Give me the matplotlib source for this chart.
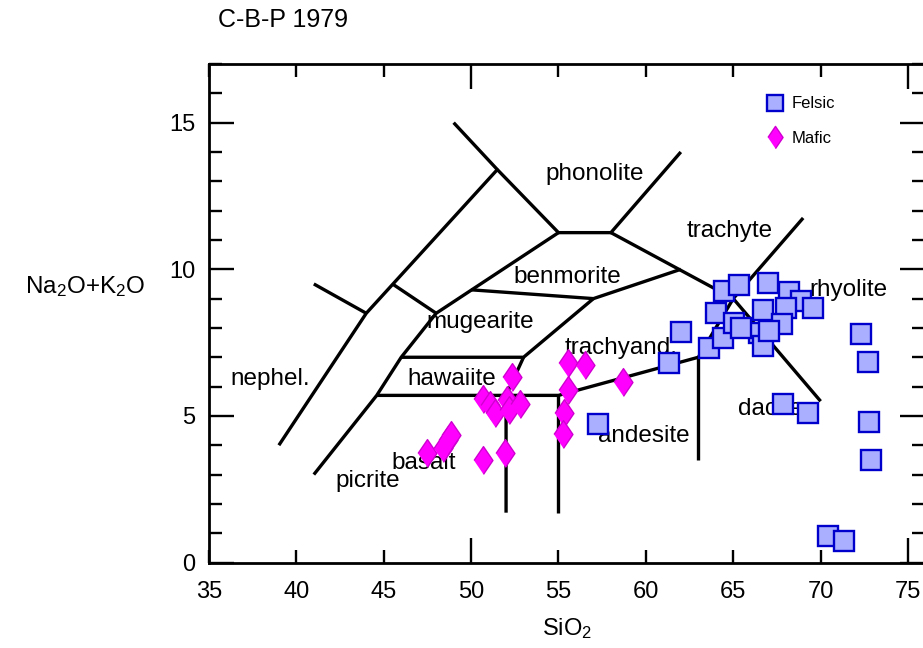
import matplotlib
matplotlib.use("Agg")
import matplotlib.pyplot as plt
from matplotlib.ticker import MultipleLocator, FormatStrFormatter

plt.rcParams['font.family'] = ['Liberation Sans', 'DejaVu Sans']
plt.rcParams['mathtext.fontset'] = 'custom'
plt.rcParams['mathtext.rm'] = 'Liberation Sans'
plt.rcParams['mathtext.it'] = 'Liberation Sans'

# felsic samples (SiO2, Na2O+K2O)
felsic_si = [57.24, 61.30, 62.01, 63.61, 64.02, 64.42, 64.48, 65.32, 65.03, 66.98,
             68.18, 68.87, 69.56, 68.01, 66.69, 67.80, 66.46, 66.69, 72.31, 72.71,
             67.84, 69.27, 72.77, 72.88, 70.42, 71.33, 65.43, 67.03]
felsic_alk = [4.71, 6.82, 7.87, 7.33, 8.52, 7.64, 9.27, 9.47, 8.18, 9.54,
              9.23, 8.93, 8.69, 8.69, 8.62, 8.15, 7.84, 7.40, 7.81, 6.85,
              5.39, 5.09, 4.78, 3.49, 0.90, 0.73, 8.01, 7.91]

# mafic samples
mafic_si = [47.49, 48.41, 48.70, 48.87, 50.70, 51.96, 50.70, 51.10, 51.39, 52.36,
            52.08, 52.19, 52.77, 55.57, 56.49, 55.57, 55.29, 55.23, 58.67]
mafic_alk = [3.72, 3.89, 4.17, 4.34, 3.49, 3.72, 5.56, 5.36, 5.09, 6.31,
             5.53, 5.19, 5.39, 6.79, 6.72, 5.87, 5.09, 4.40, 6.14]

# field boundaries, Cox, Bell & Pankhurst (1979)
boundaries = [
    [(39, 4), (44, 8.5), (51.5, 13.4), (55, 11.25), (58, 11.25), (62, 14)],
    [(51.5, 13.4), (49, 15)],
    [(41, 9.5), (44, 8.5)],
    [(45.5, 9.5), (48, 8.5)],
    [(41, 3), (44.6, 5.7), (46, 7), (48, 8.5), (55, 11.25)],
    [(58, 11.25), (65, 9), (70, 5.5)],
    [(65, 9), (69, 11.75)],
    [(50, 9.3), (57, 9), (62, 10)],
    [(44.6, 5.7), (55, 5.7), (63, 7), (65, 9)],
    [(46, 7), (53, 7), (57, 9)],
    [(53, 7), (52, 5.7), (52, 1.7)],
    [(55, 5.7), (55, 1.7)],
    [(63, 7), (63, 3.5)],
]

field_names = ['phonolite', 'trachyte', 'benmorite', 'rhyolite', 'mugearite',
               'trachyand.', 'nephel.', 'hawaiite', 'dacite', 'andesite',
               'basalt', 'picrite']
field_x = [57.06, 64.8, 55.5, 71.6, 50.5, 58.6, 38.5, 48.9, 67.1, 59.9, 47.26, 44.1]
field_y = [13.25, 11.3, 9.75, 9.3, 8.2, 7.3, 6.27, 6.27, 5.25, 4.3, 3.38, 2.77]

fig = plt.figure(figsize=(9.23, 6.48), dpi=100)
ax = fig.add_axes([0.2264, 0.1319, 0.7763, 0.7693])

for line in boundaries:
    xs = [p[0] for p in line]
    ys = [p[1] for p in line]
    ax.plot(xs, ys, color='black', lw=2.4, solid_capstyle='butt', zorder=2)

for name, x, y in zip(field_names, field_x, field_y):
    ax.text(x, y, name, fontsize=17.5, ha='center', va='center', zorder=1)

diamond = [(-0.34, 0), (0, 0.5), (0.34, 0), (0, -0.5)]

ax.plot(felsic_si, felsic_alk, ls='none', marker='s', markersize=14.5,
        markerfacecolor='#aab0ff', markeredgecolor='#0000cc', markeredgewidth=1.7,
        label='Felsic', zorder=3)
ax.plot(mafic_si, mafic_alk, ls='none', marker=diamond, markersize=20,
        markerfacecolor='#ff00ff', markeredgecolor='#d000d0', markeredgewidth=1.0,
        label='Mafic', zorder=3)

ax.set_xlim(35, 76)
ax.set_ylim(0, 17)

ax.xaxis.set_major_locator(MultipleLocator(25))
ax.xaxis.set_minor_locator(MultipleLocator(5))
ax.xaxis.set_major_formatter(FormatStrFormatter('%d'))
ax.xaxis.set_minor_formatter(FormatStrFormatter('%d'))
ax.yaxis.set_major_locator(MultipleLocator(5))
ax.yaxis.set_minor_locator(MultipleLocator(1))

ax.tick_params(which='both', direction='in', top=True, right=True, width=1.7,
               labelsize=17)
ax.tick_params(which='major', length=18)
ax.tick_params(which='minor', length=9.5)
ax.tick_params(axis='x', which='both', pad=13.5)
ax.tick_params(axis='y', which='both', pad=10)
for s in ax.spines.values():
    s.set_linewidth(2.0)

ax.set_xlabel('SiO$_2$', fontsize=17, labelpad=9)
ax.text(-0.173, 0.553, 'Na$_2$O+K$_2$O', transform=ax.transAxes,
        fontsize=17.5, ha='center', va='center')
fig.text(218 / 923, 1 - 20 / 648, 'C-B-P 1979', fontsize=18, va='center')

ax.legend(loc='upper left', bbox_to_anchor=(0.757, 0.965), frameon=False,
          fontsize=12, markerscale=0.8, handlelength=1.0, handletextpad=0.5,
          labelspacing=1.15)

fig.savefig('out.png', dpi=100)
